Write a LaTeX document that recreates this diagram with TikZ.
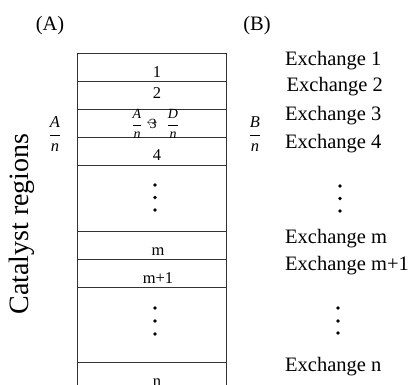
\documentclass[tikz,border=0pt]{standalone}
\usepackage{fontspec}
\setmainfont{Liberation Serif}
\newcommand\fracAB[2]{$\displaystyle\frac{\textit{#1}}{\textit{#2}}$}
\tikzset{
  boxline/.style={draw=black!80, line width=0.9pt},
  lab/.style={inner sep=0pt, font=\fontsize{20.5}{22}\selectfont},
  cell/.style={inner sep=0pt, anchor=base, font=\fontsize{16.5}{18}\selectfont},
  exch/.style={inner sep=0pt, anchor=base west, font=\fontsize{20.5}{22}\selectfont},
  frbig/.style={inner sep=0pt, font=\fontsize{16.5}{18}\selectfont},
  frsmall/.style={inner sep=0pt, font=\fontsize{14}{15}\selectfont},
  dotmark/.style={circle, fill=black, inner sep=0pt, minimum size=3.6pt},
}
\begin{document}
\begin{tikzpicture}[x=1pt,y=-1pt]
  \useasboundingbox (0,0) rectangle (415,384);
  \clip (0,0) rectangle (415,384);

  % panel letters
  \node[lab] (pA) at (50,26) {(A)};
  \node[lab] (pB) at (257,26) {(B)};

  % catalyst column: outline open at the bottom, one rule per region
  \draw[boxline] (77,390) -- (77,53) -- (226,53) -- (226,390);
  \foreach \yy in {81,109,137,165,231,259,287,362}
    \draw[boxline] (77,\yy) -- (226,\yy);

  % region labels
  \node[cell] (c1) at (157,77) {1};
  \node[cell] (c2) at (157,98) {2};
  \node[frsmall] (fa) at (137,124) {\fracAB{A}{n}};
  \node[frsmall] (c3) at (153,124) {3};
  \node[inner sep=0pt, font=\fontsize{11}{12}\selectfont] (arr) at (152,123) {$\leftrightarrow$};
  \node[frsmall] (fd) at (173,124) {\fracAB{D}{n}};
  \node[cell] (c4) at (157,160) {4};
  \foreach \yy [count=\i] in {185,197.5,210}
    \node[dotmark] (dl\i) at (155,\yy) {};
  \node[cell] (cm) at (158,255) {m};
  \node[cell] (cm1) at (158,283) {m+1};
  \foreach \yy [count=\i] in {308,321,334}
    \node[dotmark] (dk\i) at (155,\yy) {};
  \node[cell] (cn) at (157,386) {n};

  % side labels
  \node[lab, rotate=90, font=\fontsize{28}{30}\selectfont] (cat) at (22,224) {Catalyst regions};
  \node[frbig] (an) at (55,134) {\fracAB{A}{n}};
  \node[frbig] (bn) at (255,134) {\fracAB{B}{n}};

  % exchange list
  \node[exch] (e1) at (285,65) {Exchange 1};
  \node[exch] (e2) at (286.5,91) {Exchange 2};
  \node[exch] (e3) at (285,120) {Exchange 3};
  \node[exch] (e4) at (285,148) {Exchange 4};
  \foreach \yy [count=\i] in {186,198.5,211}
    \node[dotmark] (de\i) at (340,\yy) {};
  \node[exch] (em) at (285,243) {Exchange m};
  \node[exch] (em1) at (285,270.5) {Exchange m+1};
  \foreach \yy [count=\i] in {308,321,333}
    \node[dotmark] (df\i) at (338,\yy) {};
  \node[exch] (en) at (285,371.5) {Exchange n};
\end{tikzpicture}
\end{document}
